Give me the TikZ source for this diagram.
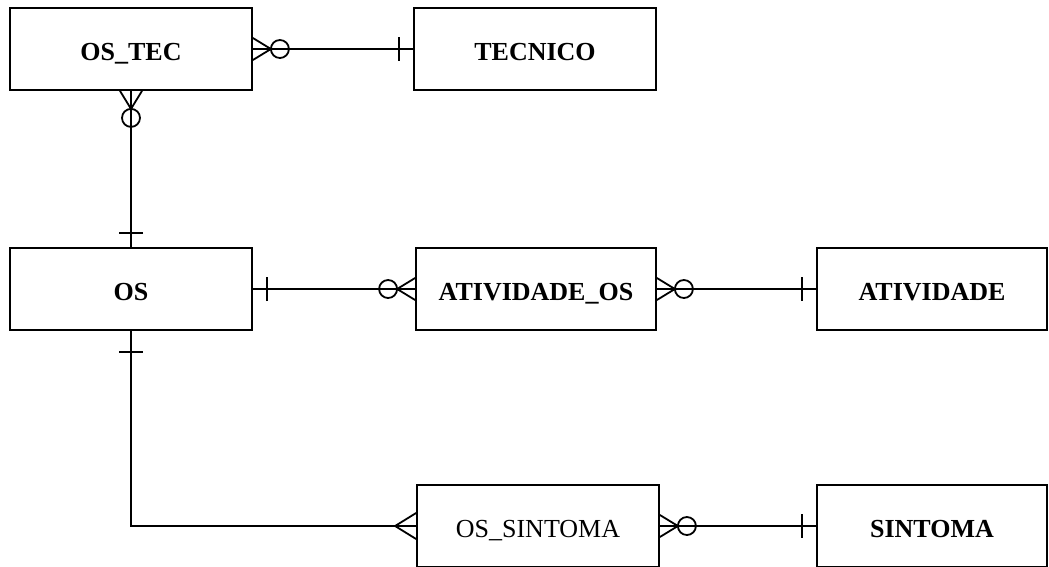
\documentclass[tikz,border=0pt]{standalone}
\usepackage{fontspec}
\setmainfont{Liberation Serif}
\usepackage{tikz}
\usetikzlibrary{calc}
\tikzstyle{entity} = [draw,rectangle,inner sep=0pt,minimum width=242pt,minimum height=82pt,text height=22pt,text depth=0pt,font=\fontsize{26}{30}\selectfont\bfseries]
\tikzstyle{erline} = [line width=1.8pt]
\tikzset{
  zeromany/.pic={\draw[erline] (0,11) -- (18,0) -- (0,-11) (0,0) -- (18,0); \draw[erline] (27,0) circle (9);},
  many/.pic={\draw[erline] (0,13) -- (21,0) -- (0,-13) (0,0) -- (21,0);},
  one/.pic={\draw[erline] (14,-12) -- (14,12);}
}

\begin{document}
\begin{tikzpicture}[x=1pt,y=1pt,line width=1.8pt]
       \useasboundingbox (0,0) rectangle (1049,-566);

        \node[entity] (ostec) at (131,-49) {OS\_TEC};
        \node[entity] (tecnico) at (535,-49) {TECNICO};
        \node[entity] (os) at (131,-289) {OS};
        \node[entity,minimum width=240pt] (atvos) at (536,-289) {ATIVIDADE\_OS};
        \node[entity,minimum width=230pt] (atv) at (932,-289) {ATIVIDADE};
        \node[entity,font=\fontsize{26}{30}\selectfont] (ossint) at (538,-526) {OS\_SINTOMA};
        \node[entity,minimum width=230pt] (sint) at (932,-526) {SINTOMA};

        \draw (ostec) to (tecnico);
        \pic at (ostec.east) {zeromany};
        \pic[rotate=180] at (tecnico.west) {one};

        \draw (ostec) to (os);
        \pic[rotate=-90] at (ostec.south) {zeromany};
        \pic[rotate=90] at (os.north) {one};

        \draw (os) to (atvos);
        \pic at (os.east) {one};
        \pic[rotate=180] at (atvos.west) {zeromany};

        \draw (atvos) to (atv);
        \pic at (atvos.east) {zeromany};
        \pic[rotate=180] at (atv.west) {one};

        \draw (os.south) |- (ossint.west);
        \pic[rotate=-90] at ($(os.south)+(0,-7)$) {one};
        \pic[rotate=180] at (ossint.west) {many};

        \draw (ossint) to (sint);
        \pic at (ossint.east) {zeromany};
        \pic[rotate=180] at (sint.west) {one};
    \end{tikzpicture}
\end{document}
